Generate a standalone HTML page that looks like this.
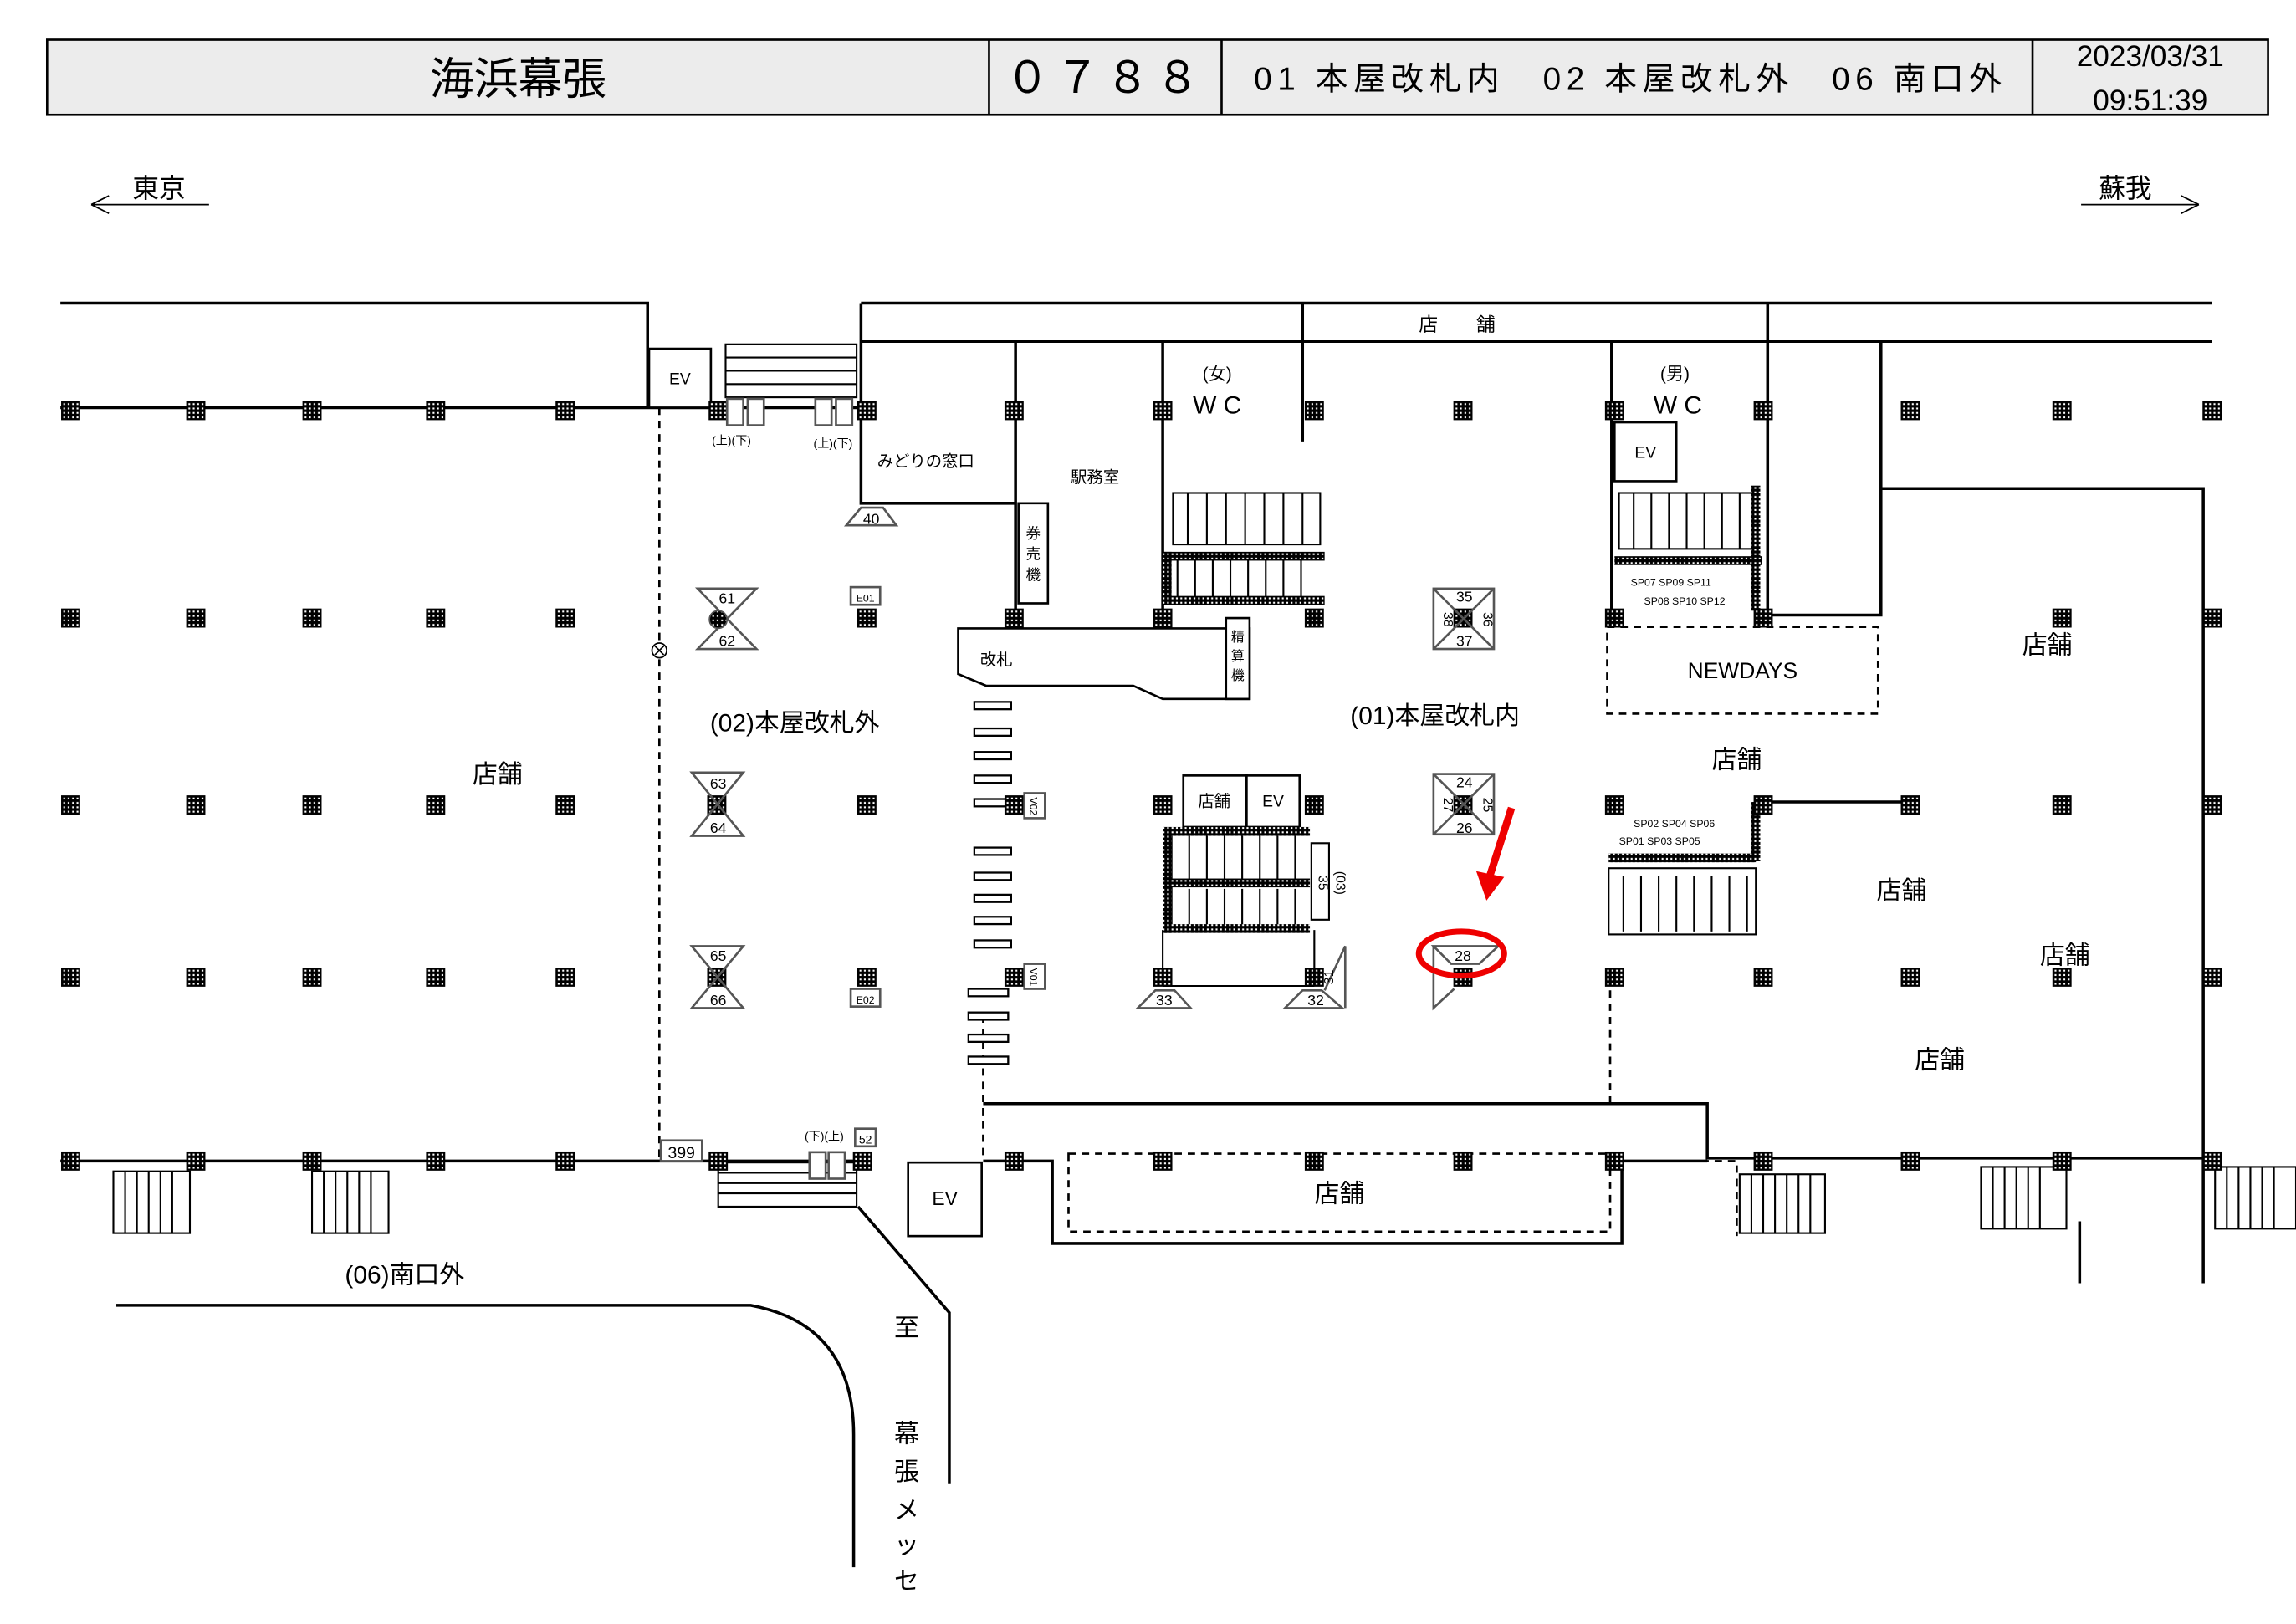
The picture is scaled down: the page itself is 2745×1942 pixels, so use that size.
<!DOCTYPE html>
<html><head><meta charset="utf-8"><style>
html,body{margin:0;padding:0;background:#fff}
svg{display:block}
text{font-family:"Liberation Sans","Noto Sans CJK JP",sans-serif;fill:#000}
</style></head><body>
<svg width="2745" height="1942" viewBox="0 0 1560 1103.6" preserveAspectRatio="none" xmlns="http://www.w3.org/2000/svg">
<defs>
<pattern id="dots" width="3" height="3" patternUnits="userSpaceOnUse"><rect width="3" height="3" fill="#000"/><rect x="1" y="1" width="1.2" height="1.2" fill="#fff"/></pattern>
<g id="p"><rect x="-6.5" y="-6.5" width="13" height="13" fill="url(#dots)"/></g>
</defs>
<rect width="1560" height="1104" fill="#fff"/>
<!-- header -->
<rect x="32" y="27" width="1509" height="51" fill="#ececec" stroke="#000" stroke-width="1.5"/>
<g stroke="#000" stroke-width="1.5"><line x1="672" y1="27" x2="672" y2="78"/><line x1="830" y1="27" x2="830" y2="78"/><line x1="1381" y1="27" x2="1381" y2="78"/></g>
<text x="352" y="64" font-size="30" text-anchor="middle">海浜幕張</text>
<text x="751" y="63" font-size="30" text-anchor="middle" letter-spacing="4">０７８８</text>
<text x="852" y="61" font-size="22" textLength="508" lengthAdjust="spacing">01 本屋改札内　02 本屋改札外　06 南口外</text>
<text x="1461" y="45" font-size="20" text-anchor="middle">2023/03/31</text>
<text x="1461" y="75" font-size="20" text-anchor="middle">09:51:39</text>
<!-- directions -->
<text x="90" y="134" font-size="18">東京</text>
<path d="M62 139 H142 M62 139 l12 -6 M62 139 l12 6" stroke="#000" fill="none"/>
<text x="1426" y="134" font-size="18">蘇我</text>
<path d="M1414 139 H1494 M1494 139 l-12 -6 M1494 139 l-12 6" stroke="#000" fill="none"/>
<!-- walls -->
<g stroke="#000" stroke-width="2" fill="none">
<path d="M41 206 H440 V277"/>
<path d="M41 277 H585"/>
<path d="M585 206 H1503 M585 232 H1503"/>
<path d="M585 206 V342 H690 V232 M690 342 V420"/>
<path d="M790 232 V420"/>
<path d="M885 206 V300"/>
<path d="M1201 206 V420 M1201 418 H1278 V232"/>
<path d="M1278 332 H1497 V872"/>
<path d="M41 789 H583"/>
<path d="M668 750 H1160 V787 H1503"/>
<path d="M668 789 H715 V845 H1102 V789 H1160"/>
<path d="M1413 830 V872"/>
<path d="M1095 420 V232"/>
<path d="M1201 545 H1298"/>
<path d="M583 820 L645 892 V1008"/>
<path d="M79 887 H510 Q580 900 580 975 V1065"/>
</g>
<g stroke="#000" stroke-width="1.5" fill="none" stroke-dasharray="5,4">
<path d="M448 277 V787"/><path d="M668 690 V787"/><path d="M1094 664 V750"/>
<rect x="726" y="784" width="368" height="53"/>
<rect x="1092" y="426" width="184" height="59"/>
<path d="M1102 789 H1180 V840"/>
</g>
<g stroke="#000" stroke-width="1.5" fill="#fff">
<rect x="441" y="237" width="42" height="40"/>
<rect x="1097" y="287" width="42" height="40"/>
<rect x="617" y="790" width="50" height="50"/>
<rect x="804" y="527" width="43" height="35"/><rect x="847" y="527" width="36" height="35"/>
<rect x="692" y="342" width="20" height="68"/>
<path d="M651 427 H849 V475 H790 L770 466 H670 L651 458 Z"/>
<rect x="833" y="420" width="16" height="55"/>
</g>
<text x="462" y="261" font-size="11" text-anchor="middle">EV</text>
<text x="1118" y="311" font-size="11" text-anchor="middle">EV</text>
<text x="642" y="819" font-size="13" text-anchor="middle">EV</text>
<text x="825" y="548" font-size="11" text-anchor="middle">店舗</text>
<text x="865" y="548" font-size="11" text-anchor="middle">EV</text>
<text x="677" y="452" font-size="11" text-anchor="middle">改札</text>
<text x="629" y="317" font-size="11" text-anchor="middle">みどりの窓口</text>
<text x="744" y="328" font-size="11" text-anchor="middle">駅務室</text>
<text x="702" y="366" font-size="10" text-anchor="middle">券</text><text x="702" y="380" font-size="10" text-anchor="middle">売</text><text x="702" y="394" font-size="10" text-anchor="middle">機</text>
<text x="841" y="436" font-size="9" text-anchor="middle">精</text><text x="841" y="449" font-size="9" text-anchor="middle">算</text><text x="841" y="462" font-size="9" text-anchor="middle">機</text>
<!-- stairs -->
<g stroke="#000" stroke-width="1.2" fill="none">
<rect x="493" y="234" width="89" height="36"/>
<path d="M493 243 H582 M493 252 H582 M493 261 H582"/>
<rect x="488" y="790" width="94" height="30"/><path d="M488 797 H582 M488 804 H582 M488 811 H582"/>
<rect x="797" y="335" width="100" height="35"/>
<path d="M807 335 V370 M820 335 V370 M833 335 V370 M846 335 V370 M859 335 V370 M872 335 V370 M885 335 V370"/>
<path d="M800 378 V410 M812 378 V410 M824 378 V410 M836 378 V410 M848 378 V410 M860 378 V410 M872 378 V410 M884 378 V410"/>
<rect x="1100" y="335" width="93" height="38"/>
<path d="M1110 335 V373 M1122 335 V373 M1134 335 V373 M1146 335 V373 M1158 335 V373 M1170 335 V373 M1182 335 V373"/>
<rect x="1093" y="590" width="100" height="45"/>
<path d="M1103 595 V633 M1115 595 V633 M1127 595 V633 M1139 595 V633 M1151 595 V633 M1163 595 V633 M1175 595 V633 M1187 595 V633"/>
<path d="M796 565 V632 M808 565 V598 M820 565 V598 M832 565 V598 M844 565 V598 M856 565 V598 M868 565 V598 M880 565 V598 M808 604 V630 M820 604 V630 M832 604 V630 M844 604 V630 M856 604 V630 M868 604 V630 M880 604 V630"/>
<path d="M790 632 V664 M893 632 V664 M790 670 H893"/>
<rect x="891" y="573" width="12" height="52"/>
<rect x="77" y="796" width="52" height="42"/><path d="M85 796 V838 M93 796 V838 M101 796 V838 M109 796 V838 M117 796 V838"/>
<rect x="212" y="796" width="52" height="42"/><path d="M220 796 V838 M228 796 V838 M236 796 V838 M244 796 V838 M252 796 V838"/>
<rect x="1182" y="798" width="58" height="40"/><path d="M1190 798 V838 M1198 798 V838 M1206 798 V838 M1214 798 V838 M1222 798 V838 M1230 798 V838"/>
<rect x="1346" y="793" width="58" height="42"/><path d="M1354 793 V835 M1362 793 V835 M1370 793 V835 M1378 793 V835 M1386 793 V835"/>
<rect x="1505" y="793" width="55" height="42"/><path d="M1513 793 V835 M1521 793 V835 M1529 793 V835 M1537 793 V835 M1545 793 V835"/>
</g>
<g fill="url(#dots)">
<rect x="790" y="375" width="110" height="6"/><rect x="790" y="405" width="110" height="6"/><rect x="790" y="375" width="6" height="36"/>
<rect x="790" y="562" width="100" height="6"/><rect x="790" y="597" width="100" height="6"/><rect x="790" y="628" width="100" height="6"/><rect x="790" y="562" width="6" height="72"/>
<rect x="1097" y="378" width="100" height="6"/><rect x="1190" y="330" width="6" height="85"/>
<rect x="1093" y="580" width="100" height="6"/><rect x="1190" y="545" width="6" height="40"/>
</g>
<!-- gates -->
<g stroke="#000" stroke-width="1.3" fill="#fff">
<rect x="662" y="477" width="25" height="5"/><rect x="662" y="495" width="25" height="5"/><rect x="662" y="511" width="25" height="5"/><rect x="662" y="527" width="25" height="5"/><rect x="662" y="543" width="25" height="5"/>
<rect x="662" y="576" width="25" height="5"/><rect x="662" y="593" width="25" height="5"/><rect x="662" y="608" width="25" height="5"/><rect x="662" y="623" width="25" height="5"/><rect x="662" y="639" width="25" height="5"/>
<rect x="658" y="672" width="27" height="5"/><rect x="658" y="688" width="27" height="5"/><rect x="658" y="703" width="27" height="5"/><rect x="658" y="718" width="27" height="5"/>
</g>
<!-- pillars -->
<g>
<use href="#p" x="48" y="279"/><use href="#p" x="133" y="279"/><use href="#p" x="212" y="279"/><use href="#p" x="296" y="279"/><use href="#p" x="384" y="279"/><use href="#p" x="488" y="279"/><use href="#p" x="589" y="279"/><use href="#p" x="689" y="279"/><use href="#p" x="790" y="279"/><use href="#p" x="893" y="279"/><use href="#p" x="994" y="279"/><use href="#p" x="1097" y="279"/><use href="#p" x="1198" y="279"/><use href="#p" x="1298" y="279"/><use href="#p" x="1401" y="279"/><use href="#p" x="1503" y="279"/>
<use href="#p" x="48" y="420"/><use href="#p" x="133" y="420"/><use href="#p" x="212" y="420"/><use href="#p" x="296" y="420"/><use href="#p" x="384" y="420"/><use href="#p" x="589" y="420"/><use href="#p" x="689" y="420"/><use href="#p" x="790" y="420"/><use href="#p" x="893" y="420"/><use href="#p" x="994" y="420"/><use href="#p" x="1097" y="420"/><use href="#p" x="1198" y="420"/><use href="#p" x="1401" y="420"/><use href="#p" x="1503" y="420"/>
<use href="#p" x="48" y="547"/><use href="#p" x="133" y="547"/><use href="#p" x="212" y="547"/><use href="#p" x="296" y="547"/><use href="#p" x="384" y="547"/><use href="#p" x="487" y="547"/><use href="#p" x="589" y="547"/><use href="#p" x="689" y="547"/><use href="#p" x="790" y="547"/><use href="#p" x="893" y="547"/><use href="#p" x="994" y="547"/><use href="#p" x="1097" y="547"/><use href="#p" x="1198" y="547"/><use href="#p" x="1298" y="547"/><use href="#p" x="1401" y="547"/><use href="#p" x="1503" y="547"/>
<use href="#p" x="48" y="664"/><use href="#p" x="133" y="664"/><use href="#p" x="212" y="664"/><use href="#p" x="296" y="664"/><use href="#p" x="384" y="664"/><use href="#p" x="487" y="664"/><use href="#p" x="589" y="664"/><use href="#p" x="689" y="664"/><use href="#p" x="790" y="664"/><use href="#p" x="893" y="664"/><use href="#p" x="994" y="664"/><use href="#p" x="1097" y="664"/><use href="#p" x="1198" y="664"/><use href="#p" x="1298" y="664"/><use href="#p" x="1401" y="664"/><use href="#p" x="1503" y="664"/>
<use href="#p" x="48" y="789"/><use href="#p" x="133" y="789"/><use href="#p" x="212" y="789"/><use href="#p" x="296" y="789"/><use href="#p" x="384" y="789"/><use href="#p" x="488" y="789"/><use href="#p" x="586" y="789"/><use href="#p" x="689" y="789"/><use href="#p" x="790" y="789"/><use href="#p" x="893" y="789"/><use href="#p" x="994" y="789"/><use href="#p" x="1097" y="789"/><use href="#p" x="1198" y="789"/><use href="#p" x="1298" y="789"/><use href="#p" x="1401" y="789"/><use href="#p" x="1503" y="789"/>
</g>
<!-- ad panels -->
<g stroke="#555" stroke-width="1.5" fill="none">
<path d="M474 400 H514 L474 441 H514 Z"/>
<path d="M470 525 H505 L470 568 H505 Z"/>
<path d="M470 643 H505 L470 685 H505 Z"/>
<rect x="974" y="400" width="41" height="41"/><path d="M974 400 L1015 441 M1015 400 L974 441"/>
<rect x="974" y="526" width="41" height="41"/><path d="M974 526 L1015 567 M1015 526 L974 567"/>
<path d="M575 357 L585 345 H600 L609 357 Z"/>
<path d="M773 685 L785 673 H798 L809 685 Z"/>
<path d="M873 685 L885 673 H898 L912 685 Z M900 673 L914 643 V685"/>
<path d="M974 643 H1018 L1005 655 H986 Z M974 643 V685 L988 672"/>
<rect x="578" y="399" width="20" height="12" fill="#fff"/>
<rect x="578" y="672" width="20" height="12" fill="#fff"/>
<rect x="696" y="539" width="14" height="17" fill="#fff"/>
<rect x="696" y="655" width="14" height="17" fill="#fff"/>
<rect x="494" y="271" width="11" height="18" fill="#fff"/><rect x="508" y="271" width="11" height="18" fill="#fff"/>
<rect x="554" y="271" width="11" height="18" fill="#fff"/><rect x="568" y="271" width="11" height="18" fill="#fff"/>
<rect x="550" y="783" width="11" height="18" fill="#fff"/><rect x="563" y="783" width="11" height="18" fill="#fff"/><rect x="581" y="767" width="14" height="12" fill="#fff"/>
<rect x="449" y="775" width="28" height="14" fill="#fff"/>
</g>
<g font-size="10" text-anchor="middle">
<text x="494" y="410">61</text><text x="494" y="439">62</text><text x="488" y="536">63</text><text x="488" y="566">64</text><text x="488" y="653">65</text><text x="488" y="683">66</text>
<text x="995" y="409">35</text><text x="995" y="439">37</text><text x="995" y="535">24</text><text x="995" y="566">26</text>
<text x="592" y="356">40</text><text x="791" y="683">33</text><text x="894" y="683">32</text><text x="994" y="653">28</text>
<text x="588" y="409" font-size="7">E01</text><text x="588" y="682" font-size="7">E02</text>
<text x="463" y="787" font-size="11">399</text><text x="588" y="777" font-size="8">52</text>
<text x="497" y="302" font-size="8">(上)(下)</text><text x="566" y="304" font-size="8">(上)(下)</text><text x="560" y="775" font-size="8">(下)(上)</text>
<text transform="translate(981 421) rotate(90)" font-size="9">38</text><text transform="translate(1008 421) rotate(90)" font-size="9">36</text>
<text transform="translate(981 547) rotate(90)" font-size="9">27</text><text transform="translate(1008 547) rotate(90)" font-size="9">25</text>
<text transform="translate(906 664) rotate(-90)" font-size="9">31</text>
<text transform="translate(896 600) rotate(90)" font-size="9">35</text><text transform="translate(908 600) rotate(90)" font-size="9">(03)</text>
<text transform="translate(700 548) rotate(90)" font-size="7">V02</text><text transform="translate(700 664) rotate(90)" font-size="7">V01</text>
</g>
<circle cx="448" cy="442" r="5" fill="#fff" stroke="#000"/><path d="M445 439 l6 6 M451 439 l-6 6" stroke="#000"/>
<circle cx="488" cy="421" r="6" fill="url(#dots)" stroke="#555"/>
<ellipse cx="993" cy="648" rx="29" ry="15" fill="none" stroke="#e00" stroke-width="4"/>
<path d="M1027 549 L1012 596" stroke="#e00" stroke-width="5"/><path d="M1003 592 L1010 612 L1022 596 Z" fill="#e00"/>
<g font-size="17" text-anchor="middle">
<text x="338" y="532">店舗</text><text x="540" y="497">(02)本屋改札外</text><text x="975" y="492">(01)本屋改札内</text>
<text x="1180" y="522">店舗</text><text x="1391" y="444">店舗</text><text x="1292" y="611">店舗</text><text x="1403" y="655">店舗</text><text x="1318" y="726">店舗</text>
<text x="910" y="817">店舗</text><text x="275" y="872">(06)南口外</text>
</g>
<text x="990" y="225" font-size="13" text-anchor="middle">店　　舗</text>
<text x="827" y="258" font-size="12" text-anchor="middle">(女)</text><text x="827" y="281" font-size="17" text-anchor="middle">W C</text>
<text x="1138" y="258" font-size="12" text-anchor="middle">(男)</text><text x="1140" y="281" font-size="17" text-anchor="middle">W C</text>
<text x="1184" y="461" font-size="15" text-anchor="middle">NEWDAYS</text>
<g font-size="17" text-anchor="middle"><text x="616" y="908">至</text><text x="616" y="980">幕</text><text x="616" y="1006">張</text><text x="616" y="1032">メ</text><text x="616" y="1056">ッ</text><text x="616" y="1080">セ</text></g>
<g font-size="7"><text x="1108" y="398">SP07 SP09 SP11</text><text x="1117" y="411">SP08 SP10 SP12</text><text x="1110" y="562">SP02 SP04 SP06</text><text x="1100" y="574">SP01 SP03 SP05</text></g>
</svg>
</body></html>
